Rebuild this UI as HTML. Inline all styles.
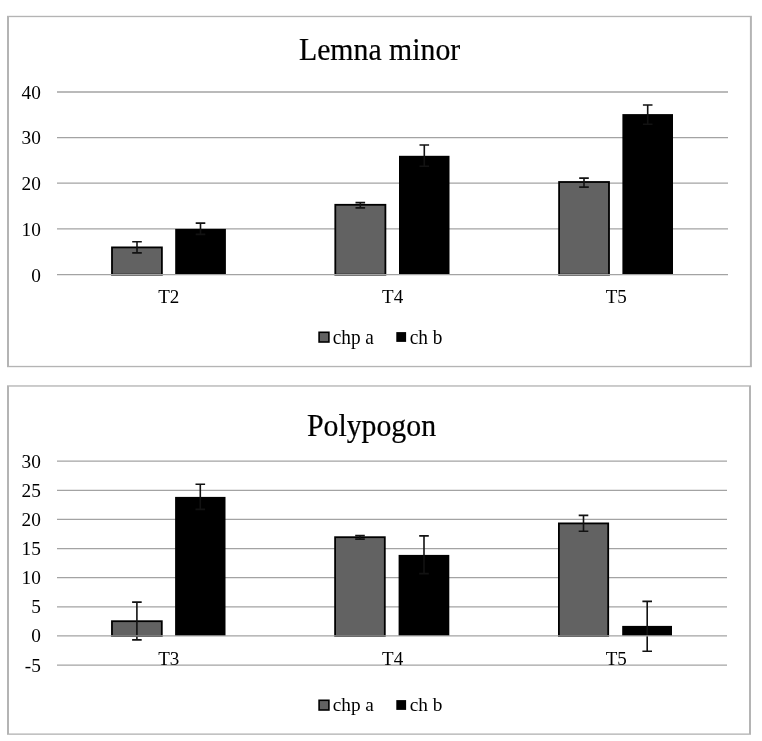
<!DOCTYPE html>
<html><head><meta charset="utf-8"><style>
html,body{margin:0;padding:0;background:#fff;}
svg{display:block;}
</style></head><body>
<svg width="762" height="741" viewBox="0 0 762 741" font-family="'Liberation Serif', 'Times New Roman', serif" fill="#000">
<rect width="762" height="741" fill="#fff"/>
<rect x="7" y="15.8" width="744.9" height="351.4" fill="#b4b4b4"/>
<rect x="9" y="17.150000000000002" width="740.9" height="348.7" fill="#fff"/>
<text transform="translate(379.6 59.5) scale(1 1.025)" font-size="29.8" text-anchor="middle" stroke="#000" stroke-width="0.2">Lemna minor</text>
<line x1="57" y1="92" x2="728" y2="92" stroke="#a3a3a3" stroke-width="1.3"/>
<text transform="translate(40.9 98.80) scale(1 1.02)" font-size="19.3" text-anchor="end">40</text>
<line x1="57" y1="137.6" x2="728" y2="137.6" stroke="#a3a3a3" stroke-width="1.3"/>
<text transform="translate(40.9 144.40) scale(1 1.02)" font-size="19.3" text-anchor="end">30</text>
<line x1="57" y1="183.2" x2="728" y2="183.2" stroke="#a3a3a3" stroke-width="1.3"/>
<text transform="translate(40.9 190.00) scale(1 1.02)" font-size="19.3" text-anchor="end">20</text>
<line x1="57" y1="228.85" x2="728" y2="228.85" stroke="#a3a3a3" stroke-width="1.3"/>
<text transform="translate(40.9 235.65) scale(1 1.02)" font-size="19.3" text-anchor="end">10</text>
<text transform="translate(40.9 281.50) scale(1 1.02)" font-size="19.3" text-anchor="end">0</text>
<rect x="112.00" y="247.40" width="49.90" height="27.30" fill="#626262" stroke="#000" stroke-width="1.8"/>
<rect x="175.20" y="228.90" width="50.70" height="45.80" fill="#000"/>
<rect x="335.30" y="204.80" width="50.10" height="69.90" fill="#626262" stroke="#000" stroke-width="1.8"/>
<rect x="399.00" y="155.80" width="50.50" height="118.90" fill="#000"/>
<rect x="559.10" y="182.00" width="49.90" height="92.70" fill="#626262" stroke="#000" stroke-width="1.8"/>
<rect x="622.40" y="114.10" width="50.60" height="160.60" fill="#000"/>
<path d="M137 241.8V252.9M132.20 241.8h9.6M132.20 252.9h9.6" stroke="#121212" stroke-width="1.6" fill="none"/>
<path d="M200.5 223.1V234.4M195.70 223.1h9.6M195.70 234.4h9.6" stroke="#121212" stroke-width="1.6" fill="none"/>
<path d="M360.3 202.6V207.85M355.50 202.6h9.6M355.50 207.85h9.6" stroke="#121212" stroke-width="1.6" fill="none"/>
<path d="M424.3 145V166.3M419.50 145h9.6M419.50 166.3h9.6" stroke="#121212" stroke-width="1.6" fill="none"/>
<path d="M584 178.1V187.1M579.20 178.1h9.6M579.20 187.1h9.6" stroke="#121212" stroke-width="1.6" fill="none"/>
<path d="M647.7 105V124.2M642.90 105h9.6M642.90 124.2h9.6" stroke="#121212" stroke-width="1.6" fill="none"/>
<line x1="57" y1="274.7" x2="728" y2="274.7" stroke="#a3a3a3" stroke-width="1.3"/>
<text transform="translate(168.8 303) scale(1 1.02)" font-size="19" text-anchor="middle">T2</text>
<text transform="translate(392.6 303) scale(1 1.02)" font-size="19" text-anchor="middle">T4</text>
<text transform="translate(616.2 303) scale(1 1.02)" font-size="19" text-anchor="middle">T5</text>
<rect x="319.1" y="332.3" width="9.8" height="9.700000000000001" fill="#626262" stroke="#000" stroke-width="1.6"/>
<text transform="translate(332.7 343.5) scale(1 1.04)" font-size="19.3">chp a</text>
<rect x="396.3" y="332.1" width="9.8" height="9.8" fill="#000"/>
<text transform="translate(409.8 343.5) scale(1 1.04)" font-size="19.3">ch b</text>
<rect x="7" y="385.3" width="744" height="349.49999999999994" fill="#b4b4b4"/>
<rect x="9" y="386.65000000000003" width="740" height="346.79999999999995" fill="#fff"/>
<text transform="translate(371.5 435.6) scale(1 1.06)" font-size="29.8" text-anchor="middle" stroke="#000" stroke-width="0.2">Polypogon</text>
<line x1="57" y1="461.1" x2="727" y2="461.1" stroke="#a3a3a3" stroke-width="1.3"/>
<text transform="translate(40.9 467.60) scale(1 1.01)" font-size="19.3" text-anchor="end">30</text>
<line x1="57" y1="490.3" x2="727" y2="490.3" stroke="#a3a3a3" stroke-width="1.3"/>
<text transform="translate(40.9 496.80) scale(1 1.01)" font-size="19.3" text-anchor="end">25</text>
<line x1="57" y1="519.4" x2="727" y2="519.4" stroke="#a3a3a3" stroke-width="1.3"/>
<text transform="translate(40.9 525.90) scale(1 1.01)" font-size="19.3" text-anchor="end">20</text>
<line x1="57" y1="548.6" x2="727" y2="548.6" stroke="#a3a3a3" stroke-width="1.3"/>
<text transform="translate(40.9 555.10) scale(1 1.01)" font-size="19.3" text-anchor="end">15</text>
<line x1="57" y1="577.7" x2="727" y2="577.7" stroke="#a3a3a3" stroke-width="1.3"/>
<text transform="translate(40.9 584.20) scale(1 1.01)" font-size="19.3" text-anchor="end">10</text>
<line x1="57" y1="606.85" x2="727" y2="606.85" stroke="#a3a3a3" stroke-width="1.3"/>
<text transform="translate(40.9 613.35) scale(1 1.01)" font-size="19.3" text-anchor="end">5</text>
<text transform="translate(40.9 642.40) scale(1 1.01)" font-size="19.3" text-anchor="end">0</text>
<line x1="57" y1="665.05" x2="727" y2="665.05" stroke="#a3a3a3" stroke-width="1.3"/>
<text transform="translate(40.9 671.55) scale(1 1.01)" font-size="19.3" text-anchor="end">-5</text>
<rect x="111.97" y="621.20" width="49.83" height="14.70" fill="#626262" stroke="#000" stroke-width="1.8"/>
<rect x="175.10" y="496.90" width="50.40" height="139.00" fill="#000"/>
<rect x="335.10" y="537.20" width="49.70" height="98.70" fill="#626262" stroke="#000" stroke-width="1.8"/>
<rect x="398.60" y="554.90" width="50.70" height="81.00" fill="#000"/>
<rect x="558.90" y="523.40" width="49.30" height="112.50" fill="#626262" stroke="#000" stroke-width="1.8"/>
<rect x="622.20" y="625.90" width="49.80" height="10.00" fill="#000"/>
<path d="M136.9 602.1V639.85M132.10 602.1h9.6M132.10 639.85h9.6" stroke="#121212" stroke-width="1.6" fill="none"/>
<path d="M200.3 484.3V509.4M195.50 484.3h9.6M195.50 509.4h9.6" stroke="#121212" stroke-width="1.6" fill="none"/>
<path d="M360 535.6V539.1M355.20 535.6h9.6M355.20 539.1h9.6" stroke="#121212" stroke-width="1.6" fill="none"/>
<path d="M424 535.9V573.6M419.20 535.9h9.6M419.20 573.6h9.6" stroke="#121212" stroke-width="1.6" fill="none"/>
<path d="M583.5 515.4V531.3M578.70 515.4h9.6M578.70 531.3h9.6" stroke="#121212" stroke-width="1.6" fill="none"/>
<path d="M647.2 601.4V651.2M642.40 601.4h9.6M642.40 651.2h9.6" stroke="#121212" stroke-width="1.6" fill="none"/>
<line x1="57" y1="635.9" x2="727" y2="635.9" stroke="#a3a3a3" stroke-width="1.3"/>
<text transform="translate(168.8 664.7) scale(1 1.02)" font-size="19" text-anchor="middle">T3</text>
<text transform="translate(392.6 664.7) scale(1 1.02)" font-size="19" text-anchor="middle">T4</text>
<text transform="translate(616.2 664.7) scale(1 1.02)" font-size="19" text-anchor="middle">T5</text>
<rect x="319.1" y="700.3" width="9.8" height="9.700000000000001" fill="#626262" stroke="#000" stroke-width="1.6"/>
<text transform="translate(332.7 711.3) scale(1 1.0)" font-size="19.3">chp a</text>
<rect x="396.3" y="700.1" width="9.8" height="9.8" fill="#000"/>
<text transform="translate(409.8 711.3) scale(1 1.0)" font-size="19.3">ch b</text>
</svg>
</body></html>
